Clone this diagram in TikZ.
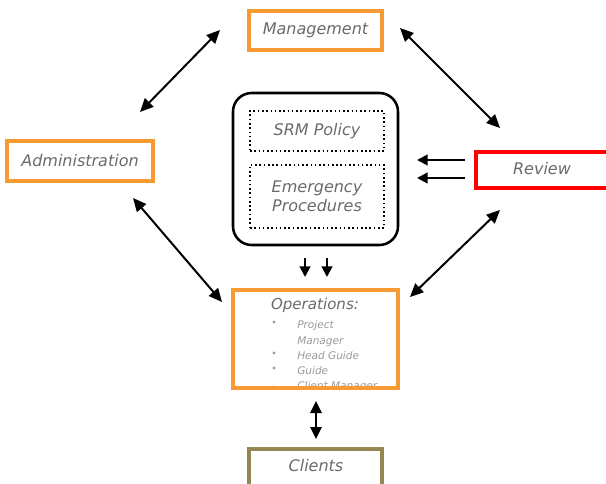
\documentclass[tikz,border=0pt]{standalone}
\usepackage{fontspec}
\setmainfont{DejaVu Sans}
\usetikzlibrary{arrows.meta,fit}
\definecolor{orng}{HTML}{F79A33}
\definecolor{olv}{HTML}{948752}
\definecolor{rd}{HTML}{FF0000}
\definecolor{txt}{HTML}{6A6A6A}
\definecolor{ltxt}{HTML}{9A9A9A}
\tikzset{
  obox/.style={draw=orng, line width=2.3pt, inner sep=0pt},
  title/.style={text=txt, font=\fontsize{12}{14}\selectfont\itshape, align=center},
  item/.style={text=ltxt, font=\fontsize{7.9}{9.5}\selectfont\itshape, anchor=base west, inner sep=0pt},
  bul/.style={fill=ltxt, circle, inner sep=0pt, minimum size=2.6pt},
  dbl/.style={line width=1.5pt, {Triangle[length=10pt,width=9pt]}-{Triangle[length=10pt,width=9pt]}},
  sgl/.style={line width=1.6pt, -{Triangle[length=8pt,width=8pt]}},
}
\begin{document}
\begin{tikzpicture}[x=0.75pt,y=-0.75pt]
\useasboundingbox (0,0) rectangle (606,484);
% boxes
\node[obox, fit={(249,11) (382,50)}] (mgmt) {};
\node[title] at (mgmt.center) {Management};
\node[obox, fit={(7,141) (153,181)}] (admin) {};
\node[title] at (admin.center) {Administration};
\node[draw=rd, line width=2.3pt, inner sep=0pt, fit={(476,152) (610,188)}] (rev) {};
\node[title] at (542,169) {Review};
\node[draw=black, line width=1.9pt, rounded corners=14pt, inner sep=0pt, fit={(233,93) (398,245)}] (core) {};
\node[draw=black, line width=1.2pt, dotted, inner sep=0pt, fit={(250,111) (384,151)}] (srm) {};
\node[title] at (srm.center) {SRM Policy};
\node[draw=black, line width=1.2pt, dotted, inner sep=0pt, fit={(250,165) (384,228)}] (emg) {};
\node[title] at (emg.center) {Emergency\\Procedures};
% operations
\begin{scope}
\clip (235,292) rectangle (396,385);
\node[title, font=\fontsize{11.3}{13}\selectfont\itshape] at (315,305) {Operations:};
\node[bul] at (274,322) {};
\node[item] at (297,328) {Project};
\node[item] at (297,344) {Manager};
\node[bul] at (274,353) {};
\node[item] at (297,359) {Head Guide};
\node[bul] at (274,368) {};
\node[item] at (297,374) {Guide};
\node[bul] at (274,387) {};
\node[item] at (297,389) {Client Manager};
\end{scope}
\node[obox, fit={(233,290) (398,388)}] (ops) {};
\node[draw=olv, line width=2.3pt, inner sep=0pt, fit={(249,449) (382,492)}] (cli) {};
\node[title] at (316,466) {Clients};
% connector endpoints
\coordinate (m1) at (220,30); \coordinate (a1) at (140,112);
\coordinate (m2) at (400,28); \coordinate (r1) at (500,128);
\coordinate (a2) at (133,198); \coordinate (o1) at (222,302);
\coordinate (r2) at (500,210); \coordinate (o2) at (410,297);
\coordinate (c1) at (305,258); \coordinate (c1e) at (305,277);
\coordinate (c2) at (327,258); \coordinate (c2e) at (327,277);
\coordinate (rv1) at (465,160); \coordinate (rv1e) at (417,160);
\coordinate (rv2) at (465,178); \coordinate (rv2e) at (417,178);
\coordinate (o3) at (316,401); \coordinate (cl1) at (316,439);
% connectors
\draw[dbl] (m1) -- (a1);
\draw[dbl] (m2) -- (r1);
\draw[dbl] (a2) -- (o1);
\draw[dbl] (r2) -- (o2);
\draw[sgl] (c1) -- (c1e);
\draw[sgl] (c2) -- (c2e);
\draw[sgl] (rv1) -- (rv1e);
\draw[sgl] (rv2) -- (rv2e);
\draw[line width=1.6pt, {Triangle[length=9pt,width=8.5pt]}-{Triangle[length=9pt,width=8.5pt]}] (o3) -- (cl1);
\end{tikzpicture}
\end{document}
